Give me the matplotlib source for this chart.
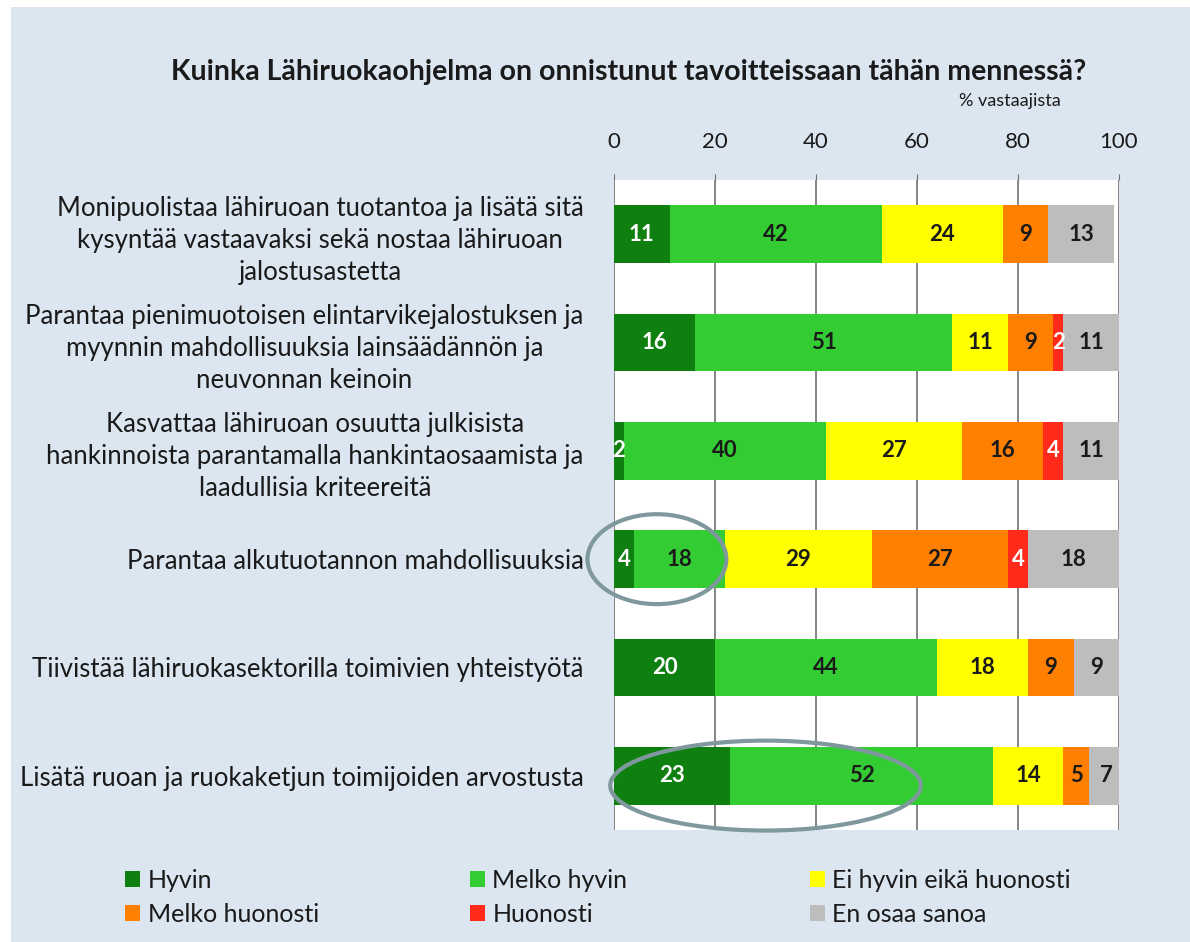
import matplotlib.pyplot as plt
from matplotlib.patches import Ellipse, Rectangle

plt.rcParams['font.family'] = ['Lato', 'DejaVu Sans']

categories = [
    "Monipuolistaa lähiruoan tuotantoa ja lisätä sitä\nkysyntää vastaavaksi sekä nostaa lähiruoan\njalostusastetta",
    "Parantaa pienimuotoisen elintarvikejalostuksen ja\nmyynnin mahdollisuuksia lainsäädännön ja\nneuvonnan keinoin",
    "Kasvattaa lähiruoan osuutta julkisista\nhankinnoista parantamalla hankintaosaamista ja\nlaadullisia kriteereitä",
    "Parantaa alkutuotannon mahdollisuuksia",
    "Tiivistää lähiruokasektorilla toimivien yhteistyötä",
    "Lisätä ruoan ja ruokaketjun toimijoiden arvostusta",
]

series_names = ["Hyvin", "Melko hyvin", "Ei hyvin eikä huonosti",
                "Melko huonosti", "Huonosti", "En osaa sanoa"]
hyvin = [11, 16, 2, 4, 20, 23]
melko_hyvin = [42, 51, 40, 18, 44, 52]
ei_hyvin = [24, 11, 27, 29, 18, 14]
melko_huonosti = [9, 9, 16, 27, 9, 5]
huonosti = [0, 2, 4, 4, 0, 0]
en_osaa = [13, 11, 11, 18, 9, 7]

series = [hyvin, melko_hyvin, ei_hyvin, melko_huonosti, huonosti, en_osaa]
colors = ['#0f800f', '#33cc33', '#ffff00', '#ff8000', '#ff2a1a', '#bdbdbd']
text_colors = ['white', '#1a1a1a', '#1a1a1a', '#1a1a1a', 'white', '#1a1a1a']

fig = plt.figure(figsize=(11.9, 9.42), dpi=100, facecolor='white')
# light blue chart area
fig.patches.append(Rectangle((11 / 1190, 0), 1, 1 - 7 / 942, transform=fig.transFigure,
                             facecolor='#dce6f1', edgecolor='none', zorder=-10))

ax = fig.add_axes([614 / 1190, 1 - 830 / 942, 505 / 1190, 650 / 942])
ax.set_facecolor('white')

y = list(range(len(categories)))
left = [0] * len(categories)
handles = []
for vals, col, tcol in zip(series, colors, text_colors):
    bars = ax.barh(y, vals, left=left, height=0.535, color=col, zorder=3)
    handles.append(bars)
    for yi, v, l in zip(y, vals, left):
        if v > 0:
            ax.text(l + v / 2, yi, str(v), ha='center', va='center',
                    color=tcol, fontsize=16, fontweight='bold', zorder=4)
    left = [a + b for a, b in zip(left, vals)]

ax.set_xlim(0, 100)
ax.set_ylim(5.5, -0.5)
ax.set_xticks(range(0, 101, 20))
ax.xaxis.tick_top()
ax.tick_params(axis='x', length=4, color='#707070', pad=16, labelsize=16, labelcolor='#1a1a1a')
ax.set_yticks(y)
ax.set_yticklabels(categories, fontsize=18.5, color='#1a1a1a', multialignment='center',
                   linespacing=1.35)
ax.tick_params(axis='y', length=0, pad=22)
ax.grid(True, axis='x', color='#707070', linewidth=1.2, zorder=1)
for s in ax.spines.values():
    s.set_visible(False)

# highlight ellipses
ax.add_patch(Ellipse((8.5, 3), 27.5, 0.83, fill=False, edgecolor='#7f989e',
                     linewidth=3, clip_on=False, zorder=5))
ax.add_patch(Ellipse((30, 5.09), 61.5, 0.83, fill=False, edgecolor='#7f989e',
                     linewidth=3, clip_on=False, zorder=5))

fig.text(0.528, 1 - 72 / 942, "Kuinka Lähiruokaohjelma on onnistunut tavoitteissaan tähän mennessä?",
         ha='center', va='center', fontsize=20.5, fontweight='bold', color='#1a1a1a')
fig.text(1010 / 1190, 1 - 101 / 942, "% vastaajista", ha='center', va='center',
         fontsize=13, color='#1a1a1a')

# legend: three columns of two entries
cols_x = [125 / 1190, 470 / 1190, 810 / 1190]
for i, cx in enumerate(cols_x):
    hs = [handles[i], handles[i + 3]]
    ls = [series_names[i], series_names[i + 3]]
    fig.legend(hs, ls, loc='upper left', bbox_to_anchor=(cx, 1 - 869 / 942),
               frameon=False, fontsize=18, handlelength=0.6, handleheight=0.6,
               handletextpad=0.3, labelspacing=0.42, borderpad=0, borderaxespad=0,
               labelcolor='#1a1a1a')

fig.savefig('out.png', dpi=100, facecolor=fig.get_facecolor())
